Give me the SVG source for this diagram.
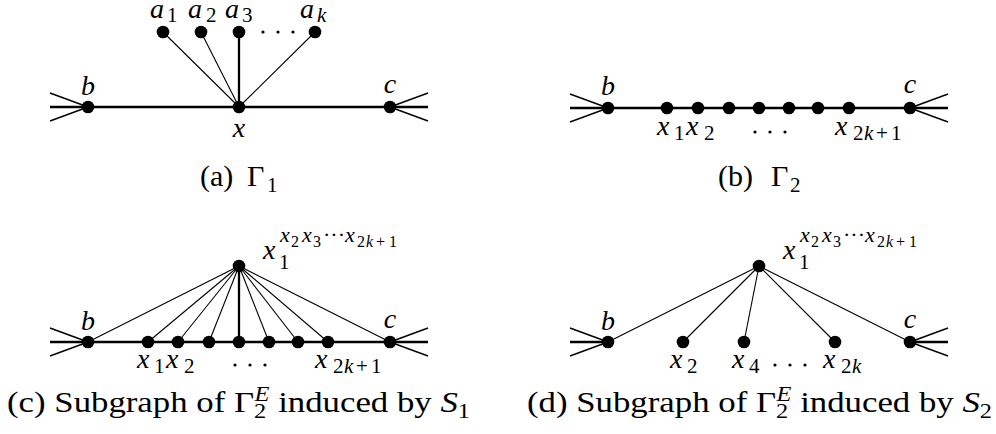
<svg xmlns="http://www.w3.org/2000/svg" width="996" height="434" viewBox="0 0 996 434">
<style>
.thick{stroke:#000;stroke-width:2.3;fill:none}
.thin{stroke:#000;stroke-width:1.1;fill:none}
.spike{stroke:#000;stroke-width:1.4;fill:none}
.node{fill:#000}
.dot{fill:#000}
.lbl{font-family:"Liberation Serif","Times New Roman",serif;font-size:28px;fill:#000}
.it{font-style:italic}
.sub{font-size:21px;font-style:normal}
.subi{font-size:21px;font-style:italic}
.sup{font-size:22px;font-style:italic}
.supn{font-size:22px;font-style:normal}
.ss{font-size:16px;font-style:normal}
.ssi{font-size:16px;font-style:italic}
.cap{font-family:"Liberation Serif","Times New Roman",serif;font-size:30px;fill:#000}
.capsub{font-size:21px}
</style>
<rect width="996" height="434" fill="#fff"/>

<g id="connectors">
  <!-- panel a -->
  <line class="thick" x1="50" y1="107" x2="428" y2="107"/>
  <line class="spike" x1="50" y1="93" x2="88" y2="107"/>
  <line class="spike" x1="50" y1="121" x2="88" y2="107"/>
  <line class="spike" x1="428" y1="93" x2="390" y2="107"/>
  <line class="spike" x1="428" y1="121" x2="390" y2="107"/>
  <line class="thin" x1="163" y1="32" x2="239" y2="107"/>
  <line class="thin" x1="201" y1="32" x2="239" y2="107"/>
  <line class="thick" x1="239" y1="32" x2="239" y2="107"/>
  <line class="thin" x1="315" y1="32" x2="239" y2="107"/>
  <!-- panel b -->
  <line class="thick" x1="570" y1="108" x2="948" y2="108"/>
  <line class="spike" x1="570" y1="94" x2="608" y2="108"/>
  <line class="spike" x1="570" y1="122" x2="608" y2="108"/>
  <line class="spike" x1="948" y1="94" x2="910" y2="108"/>
  <line class="spike" x1="948" y1="122" x2="910" y2="108"/>
  <!-- panel c -->
  <line class="thick" x1="50" y1="342" x2="428" y2="342"/>
  <line class="spike" x1="50" y1="328" x2="88" y2="342"/>
  <line class="spike" x1="50" y1="356" x2="88" y2="342"/>
  <line class="spike" x1="428" y1="328" x2="390" y2="342"/>
  <line class="spike" x1="428" y1="356" x2="390" y2="342"/>
  <line class="thin" x1="239" y1="266" x2="88" y2="342"/>
  <line class="thin" x1="239" y1="266" x2="148" y2="342"/>
  <line class="thin" x1="239" y1="266" x2="178" y2="342"/>
  <line class="thin" x1="239" y1="266" x2="209" y2="342"/>
  <line class="thick" x1="239" y1="266" x2="239" y2="342"/>
  <line class="thin" x1="239" y1="266" x2="269" y2="342"/>
  <line class="thin" x1="239" y1="266" x2="298" y2="342"/>
  <line class="thin" x1="239" y1="266" x2="328" y2="342"/>
  <line class="thin" x1="239" y1="266" x2="390" y2="342"/>
  <!-- panel d -->
  <line class="thick" x1="570" y1="342" x2="608" y2="342"/>
  <line class="thick" x1="910" y1="342" x2="948" y2="342"/>
  <line class="spike" x1="570" y1="328" x2="608" y2="342"/>
  <line class="spike" x1="570" y1="356" x2="608" y2="342"/>
  <line class="spike" x1="948" y1="328" x2="910" y2="342"/>
  <line class="spike" x1="948" y1="356" x2="910" y2="342"/>
  <line class="thin" x1="759" y1="266" x2="608" y2="342"/>
  <line class="thin" x1="759" y1="266" x2="683" y2="342"/>
  <line class="thin" x1="759" y1="266" x2="744" y2="342"/>
  <line class="thin" x1="759" y1="266" x2="835" y2="342"/>
  <line class="thin" x1="759" y1="266" x2="910" y2="342"/>
</g>

<!-- panel a -->
<g id="a-b"><circle class="node" cx="88" cy="107" r="6.3"/><text class="lbl it" x="88" y="95" text-anchor="middle">b</text></g>
<g id="a-x"><circle class="node" cx="239" cy="107" r="6.3"/><text class="lbl it" x="239" y="137" text-anchor="middle">x</text></g>
<g id="a-c"><circle class="node" cx="390" cy="107" r="6.3"/><text class="lbl it" x="390" y="93" text-anchor="middle">c</text></g>
<g id="a-a1"><circle class="node" cx="163" cy="32" r="6.3"/><text class="lbl it" y="18"><tspan x="150">a</tspan><tspan class="sub" x="167" y="22">1</tspan></text></g>
<g id="a-a2"><circle class="node" cx="201" cy="32" r="6.3"/><text class="lbl it" y="18"><tspan x="188">a</tspan><tspan class="sub" x="206" y="22">2</tspan></text></g>
<g id="a-a3"><circle class="node" cx="239" cy="32" r="6.3"/><text class="lbl it" y="18"><tspan x="225">a</tspan><tspan class="sub" x="242" y="22">3</tspan></text></g>
<g id="a-ak"><circle class="node" cx="315" cy="32" r="6.3"/><text class="lbl it" y="18"><tspan x="300">a</tspan><tspan class="subi" x="317" y="22">k</tspan></text></g>
<g id="a-dots"><circle class="dot" cx="263" cy="32" r="1.6"/><circle class="dot" cx="278" cy="32" r="1.6"/><circle class="dot" cx="293" cy="32" r="1.6"/></g>
<text id="cap-a" class="cap" y="186"><tspan x="200">(a)</tspan><tspan x="247">Γ</tspan><tspan class="capsub" x="267" y="192">1</tspan></text>

<!-- panel b -->
<g id="b-b"><circle class="node" cx="608" cy="108" r="6.3"/><text class="lbl it" x="608" y="95" text-anchor="middle">b</text></g>
<g id="b-c"><circle class="node" cx="910" cy="108" r="6.3"/><text class="lbl it" x="910" y="93" text-anchor="middle">c</text></g>
<g id="b-x1"><circle class="node" cx="667" cy="108" r="6.3"/></g>
<g id="b-x2"><circle class="node" cx="698" cy="108" r="6.3"/></g>
<g id="b-x3"><circle class="node" cx="729" cy="108" r="6.3"/></g>
<g id="b-x4"><circle class="node" cx="759" cy="108" r="6.3"/></g>
<g id="b-x5"><circle class="node" cx="789" cy="108" r="6.3"/></g>
<g id="b-x6"><circle class="node" cx="818" cy="108" r="6.3"/></g>
<g id="b-x7"><circle class="node" cx="849" cy="108" r="6.3"/></g>
<text id="b-lbl12" class="lbl it" y="135"><tspan x="657">x</tspan><tspan class="sub" x="674" y="140">1</tspan><tspan x="686" y="135">x</tspan><tspan class="sub" x="704" y="140">2</tspan></text>
<g id="b-dots"><circle class="dot" cx="755" cy="132" r="1.6"/><circle class="dot" cx="770" cy="132" r="1.6"/><circle class="dot" cx="785" cy="132" r="1.6"/></g>
<text id="b-lbln" class="lbl it" y="135"><tspan x="835">x</tspan><tspan class="sub" x="853" y="140">2</tspan><tspan class="subi" x="864">k</tspan><tspan class="sub" x="876">+</tspan><tspan class="sub" x="891">1</tspan></text>
<text id="cap-b" class="cap" y="186"><tspan x="718">(b)</tspan><tspan x="771">Γ</tspan><tspan class="capsub" x="790" y="192">2</tspan></text>

<!-- panel c -->
<g id="c-b"><circle class="node" cx="88" cy="342" r="6.3"/><text class="lbl it" x="88" y="330" text-anchor="middle">b</text></g>
<g id="c-c"><circle class="node" cx="390" cy="342" r="6.3"/><text class="lbl it" x="390" y="328" text-anchor="middle">c</text></g>
<g id="c-top"><circle class="node" cx="239" cy="266" r="6.3"/>
<text class="lbl it" y="259"><tspan x="263">x</tspan><tspan class="sub" x="279" y="269">1</tspan><tspan class="sup" x="280" y="242">x</tspan><tspan class="ss" x="291" y="247">2</tspan><tspan class="sup" x="302" y="242">x</tspan><tspan class="ss" x="313" y="247">3</tspan><tspan class="supn" x="323" y="242">···</tspan><tspan class="sup" x="345" y="242">x</tspan><tspan class="ss" x="357" y="247">2</tspan><tspan class="ssi" x="366">k</tspan><tspan class="ss" x="376">+</tspan><tspan class="ss" x="389">1</tspan></text></g>
<g id="c-x1"><circle class="node" cx="148" cy="342" r="6.3"/></g>
<g id="c-x2"><circle class="node" cx="178" cy="342" r="6.3"/></g>
<g id="c-x3"><circle class="node" cx="209" cy="342" r="6.3"/></g>
<g id="c-x4"><circle class="node" cx="239" cy="342" r="6.3"/></g>
<g id="c-x5"><circle class="node" cx="269" cy="342" r="6.3"/></g>
<g id="c-x6"><circle class="node" cx="298" cy="342" r="6.3"/></g>
<g id="c-x7"><circle class="node" cx="328" cy="342" r="6.3"/></g>
<text id="c-lbl12" class="lbl it" y="368"><tspan x="137">x</tspan><tspan class="sub" x="154" y="373">1</tspan><tspan x="166" y="368">x</tspan><tspan class="sub" x="184" y="373">2</tspan></text>
<g id="c-dots"><circle class="dot" cx="235" cy="365" r="1.6"/><circle class="dot" cx="250" cy="365" r="1.6"/><circle class="dot" cx="265" cy="365" r="1.6"/></g>
<text id="c-lbln" class="lbl it" y="368"><tspan x="315">x</tspan><tspan class="sub" x="333" y="373">2</tspan><tspan class="subi" x="344">k</tspan><tspan class="sub" x="356">+</tspan><tspan class="sub" x="371">1</tspan></text>
<text id="cap-c" class="cap" y="412" textLength="463" lengthAdjust="spacingAndGlyphs" x="7">(c) Subgraph of Γ<tspan class="capsub" dy="6">2</tspan><tspan class="capsub it" dx="-10" dy="-17">E</tspan><tspan dy="11"> induced by </tspan><tspan class="it">S</tspan><tspan class="capsub" dy="6">1</tspan></text>

<!-- panel d -->
<g id="d-b"><circle class="node" cx="608" cy="342" r="6.3"/><text class="lbl it" x="608" y="330" text-anchor="middle">b</text></g>
<g id="d-c"><circle class="node" cx="910" cy="342" r="6.3"/><text class="lbl it" x="910" y="328" text-anchor="middle">c</text></g>
<g id="d-top"><circle class="node" cx="759" cy="266" r="6.3"/>
<text class="lbl it" y="259"><tspan x="783">x</tspan><tspan class="sub" x="799" y="269">1</tspan><tspan class="sup" x="800" y="242">x</tspan><tspan class="ss" x="811" y="247">2</tspan><tspan class="sup" x="822" y="242">x</tspan><tspan class="ss" x="833" y="247">3</tspan><tspan class="supn" x="843" y="242">···</tspan><tspan class="sup" x="865" y="242">x</tspan><tspan class="ss" x="877" y="247">2</tspan><tspan class="ssi" x="886">k</tspan><tspan class="ss" x="896">+</tspan><tspan class="ss" x="909">1</tspan></text></g>
<g id="d-x2"><circle class="node" cx="683" cy="342" r="6.3"/><text class="lbl it" y="368"><tspan x="670">x</tspan><tspan class="sub" x="687" y="373">2</tspan></text></g>
<g id="d-x4"><circle class="node" cx="744" cy="342" r="6.3"/><text class="lbl it" y="368"><tspan x="732">x</tspan><tspan class="sub" x="749" y="373">4</tspan></text></g>
<g id="d-x2k"><circle class="node" cx="835" cy="342" r="6.3"/><text class="lbl it" y="368"><tspan x="823">x</tspan><tspan class="sub" x="841" y="373">2</tspan><tspan class="subi" x="852">k</tspan></text></g>
<g id="d-dots"><circle class="dot" cx="775" cy="365" r="1.6"/><circle class="dot" cx="790" cy="365" r="1.6"/><circle class="dot" cx="805" cy="365" r="1.6"/></g>
<text id="cap-d" class="cap" y="412" textLength="465" lengthAdjust="spacingAndGlyphs" x="527">(d) Subgraph of Γ<tspan class="capsub" dy="6">2</tspan><tspan class="capsub it" dx="-10" dy="-17">E</tspan><tspan dy="11"> induced by </tspan><tspan class="it">S</tspan><tspan class="capsub" dy="6">2</tspan></text>
</svg>
